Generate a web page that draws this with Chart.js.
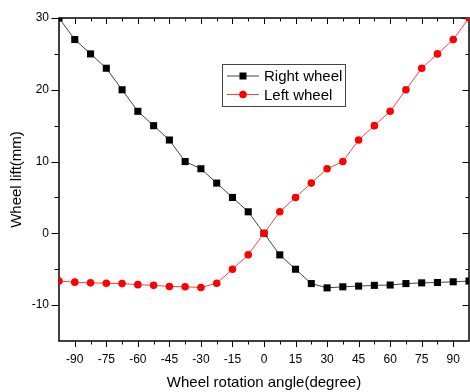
<!DOCTYPE html>
<html>
<head>
<meta charset="utf-8">
<script src="https://cdn.jsdelivr.net/npm/chart.js@4.4.0/dist/chart.umd.min.js"></script>
<style>
  body { margin: 0; background: #fff; }
</style>
</head>
<body>
<canvas id="graph" width="470" height="392"></canvas>
<script>
// wheel rotation angle (degree)
const angles = [-97.5, -90, -82.5, -75, -67.5, -60, -52.5, -45, -37.5, -30, -22.5, -15, -7.5, 0,
  7.5, 15, 22.5, 30, 37.5, 45, 52.5, 60, 67.5, 75, 82.5, 90, 97.5];
// wheel lift (mm)
const rightWheel = [30, 27, 25, 23, 20, 17, 15, 13, 10, 9, 7, 5, 3, 0,
  -3, -5, -7, -7.6, -7.45, -7.35, -7.25, -7.2, -7.0, -6.9, -6.85, -6.75, -6.65];
const leftWheel = [-6.65, -6.8, -6.9, -6.95, -7.0, -7.15, -7.25, -7.4, -7.45, -7.55, -6.95, -5, -3, 0,
  3, 5, 7, 9, 10, 13, 15, 17, 20, 23, 25, 27, 30];

const xTicks = [-90, -75, -60, -45, -30, -15, 0, 15, 30, 45, 60, 75, 90];
const xMinor = [-82.5, -67.5, -52.5, -37.5, -22.5, -7.5, 7.5, 22.5, 37.5, 52.5, 67.5, 82.5];
const yTicks = [-10, 0, 10, 20, 30];
const yMinor = [-5, 5, 15, 25];

const FONT = "'Liberation Sans', Arial, sans-serif";
Chart.defaults.font.family = FONT;
Chart.defaults.color = '#000';

// box + tick marks on all four sides
const frameTicks = {
  id: 'frameTicks',
  beforeDatasetsDraw(chart) {
    const {ctx, chartArea: a, scales: {x, y}} = chart;
    ctx.save();
    ctx.strokeStyle = '#000';
    ctx.lineWidth = 1;
    ctx.beginPath();
    const tx = (v, len) => {
      const p = Math.round(x.getPixelForValue(v)) + 0.5;
      ctx.moveTo(p, a.bottom); ctx.lineTo(p, a.bottom + len);
      ctx.moveTo(p, a.top); ctx.lineTo(p, a.top + len);
    };
    const ty = (v, len) => {
      const p = Math.round(y.getPixelForValue(v)) + 0.5;
      ctx.moveTo(a.left - len - 1, p); ctx.lineTo(a.left, p);
      ctx.moveTo(a.right, p); ctx.lineTo(a.right - len, p);
    };
    xTicks.forEach(v => tx(v, 6));
    xMinor.forEach(v => tx(v, 3.5));
    yTicks.forEach(v => ty(v, 6.5));
    yMinor.forEach(v => ty(v, 3.5));
    ctx.stroke();
    ctx.lineWidth = 1.5;
    ctx.strokeRect(a.left, a.top, a.right - a.left, a.bottom - a.top);
    ctx.restore();
  }
};

// framed legend inside the plot
const boxLegend = {
  id: 'boxLegend',
  afterDraw(chart) {
    const ctx = chart.ctx;
    const bx = 222.5, by = 64.5, bw = 123, bh = 42;
    ctx.save();
    ctx.strokeStyle = '#444';
    ctx.lineWidth = 1;
    ctx.strokeRect(bx, by, bw, bh);
    const order = [0, 1];
    order.forEach((di, i) => {
      const ds = chart.data.datasets[di];
      const ry = by + 11.5 + i * 18.5;
      ctx.strokeStyle = ds.borderColor;
      ctx.lineWidth = 1;
      ctx.beginPath();
      ctx.moveTo(227, ry); ctx.lineTo(259, ry);
      ctx.stroke();
      ctx.fillStyle = ds.pointBackgroundColor;
      if (ds.pointStyle === 'rect') {
        ctx.fillRect(239.5, ry - 3.5, 7, 7);
      } else {
        ctx.beginPath();
        ctx.arc(243, ry, 3.8, 0, Math.PI * 2);
        ctx.fill();
      }
      ctx.fillStyle = '#000';
      ctx.font = '15px ' + FONT;
      ctx.textBaseline = 'middle';
      ctx.fillText(ds.label, 264, ry + 1);
    });
    ctx.restore();
  }
};

new Chart(document.getElementById('graph'), {
  type: 'line',
  data: {
    labels: angles,
    datasets: [
      {
        label: 'Right wheel',
        data: angles.map((a, i) => ({x: a, y: rightWheel[i]})),
        borderColor: '#444',
        borderWidth: 1,
        pointStyle: 'rect',
        pointRadius: 5,
        pointBackgroundColor: '#000',
        pointBorderWidth: 0,
        order: 1
      },
      {
        label: 'Left wheel',
        data: angles.map((a, i) => ({x: a, y: leftWheel[i]})),
        borderColor: '#ff4040',
        borderWidth: 1,
        pointStyle: 'circle',
        pointRadius: 3.8,
        pointBackgroundColor: '#ff0000',
        pointBorderWidth: 0,
        order: 0
      }
    ]
  },
  options: {
    responsive: false,
    animation: false,
    layout: {autoPadding: false, padding: {top: 18, right: 1, left: 0, bottom: 0}},
    plugins: {legend: {display: false}, tooltip: {enabled: false}},
    scales: {
      x: {
        type: 'linear', min: -97.5, max: 97.5,
        afterBuildTicks: s => { s.ticks = xTicks.map(v => ({value: v})); },
        grid: {display: false, drawTicks: false},
        border: {display: false},
        ticks: {padding: 11, font: {size: 12}, color: '#000', maxRotation: 0, autoSkip: false},
        title: {display: true, text: 'Wheel rotation angle(degree)', font: {size: 15}, color: '#000', padding: {top: 0, bottom: 0}},
        afterFit: s => { s.height = 51; s.paddingLeft = 0; s.paddingRight = 0; }
      },
      y: {
        type: 'linear', min: -15, max: 30,
        afterBuildTicks: s => { s.ticks = yTicks.map(v => ({value: v})); },
        grid: {display: false, drawTicks: false},
        border: {display: false},
        ticks: {padding: 10, font: {size: 12}, color: '#000'},
        title: {display: true, text: 'Wheel lift(mm)', font: {size: 15}, color: '#000', padding: {top: 8, bottom: 0}},
        afterFit: s => { s.width = 59; s.paddingTop = 0; s.paddingBottom = 0; }
      }
    }
  },
  plugins: [frameTicks, boxLegend]
});
</script>
</body>
</html>
